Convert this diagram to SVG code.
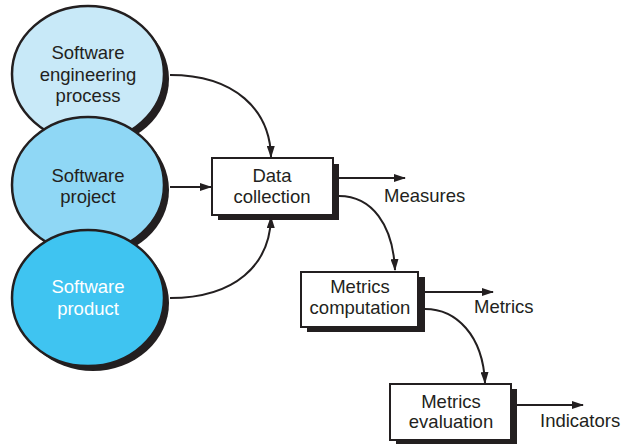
<svg xmlns="http://www.w3.org/2000/svg" width="625" height="444" viewBox="0 0 625 444">
<style>
text{font-family:"Liberation Sans",Arial,sans-serif;font-size:18.5px;fill:#231f20}
.c text, .b text{text-anchor:middle}
.circ{stroke:#231f20;stroke-width:2.5}
.sh{fill:#231f20}
.box{fill:#fff;stroke:#231f20;stroke-width:2}
.conn path{fill:none;stroke:#231f20;stroke-width:2;marker-end:url(#ah)}
</style>
<defs>
<marker id="ah" viewBox="0 0 12 8" refX="11" refY="4" markerWidth="12" markerHeight="8" markerUnits="userSpaceOnUse" orient="auto">
<path d="M0,0 L12,4 L0,8 z" fill="#231f20"/>
</marker>
</defs>
<g id="n-process" class="c">
<ellipse class="sh" cx="93" cy="79" rx="76" ry="68"/>
<ellipse class="circ" cx="88" cy="74" rx="76" ry="68" fill="#c8e9f8"/>
<text x="88" y="59">Software</text>
<text x="88" y="81">engineering</text>
<text x="88" y="102">process</text>
</g>
<g id="n-project" class="c">
<ellipse class="sh" cx="93" cy="190" rx="76" ry="68"/>
<ellipse class="circ" cx="88" cy="185" rx="76" ry="68" fill="#8fd7f5"/>
<text x="88" y="182">Software</text>
<text x="88" y="203">project</text>
</g>
<g id="n-product" class="c">
<ellipse class="sh" cx="93" cy="303" rx="76" ry="68"/>
<ellipse class="circ" cx="88" cy="298" rx="76" ry="68" fill="#3fc4f1"/>
<text x="88" y="293" style="fill:#fff">Software</text>
<text x="88" y="315" style="fill:#fff">product</text>
</g>
<g id="n-data" class="b">
<rect class="sh" x="218" y="164" width="121" height="56"/>
<rect class="box" x="212" y="158" width="121" height="57"/>
<text x="272" y="182">Data</text>
<text x="272" y="203">collection</text>
</g>
<g id="n-comp" class="b">
<rect class="sh" x="307" y="277" width="118" height="55"/>
<rect class="box" x="301" y="272" width="117" height="55"/>
<text x="360" y="293">Metrics</text>
<text x="360" y="314">computation</text>
</g>
<g id="n-eval" class="b">
<rect class="sh" x="396" y="389" width="121" height="55"/>
<rect class="box" x="390" y="384" width="121" height="56"/>
<text x="451" y="408">Metrics</text>
<text x="451" y="428">evaluation</text>
</g>
<g id="connectors" class="conn">
<path d="M170,75 C235,75 270,110 271,157"/>
<path d="M170,187 L211,187"/>
<path d="M170,298 C235,298 270,265 271,217"/>
<path d="M339,178 L405,178"/>
<path d="M339,196 C372,196 393,225 395,270"/>
<path d="M425,292 L493,292"/>
<path d="M425,309 C456,309 483,335 485,383"/>
<path d="M517,405 L583,405"/>
</g>
<g id="labels">
<text x="384" y="202">Measures</text>
<text x="474" y="313">Metrics</text>
<text x="540" y="427">Indicators</text>
</g>
</svg>
